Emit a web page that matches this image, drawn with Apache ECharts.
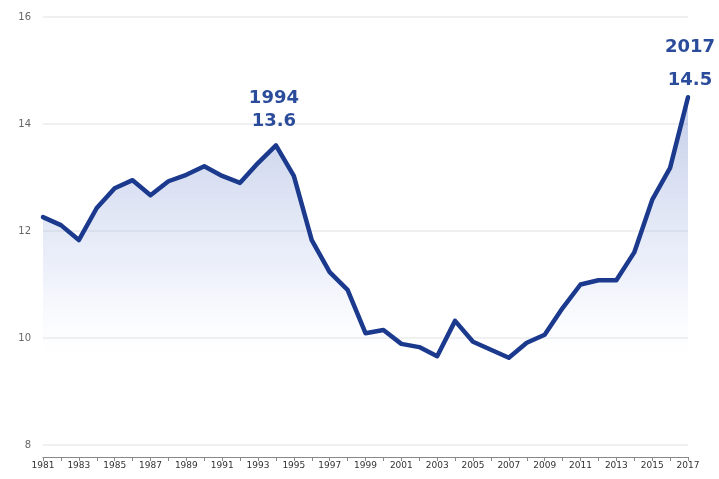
<!DOCTYPE html>
<html>
<head>
<meta charset="utf-8">
<script src="https://cdn.jsdelivr.net/npm/echarts@6/dist/echarts.min.js"></script>
<style>
  html, body { margin: 0; padding: 0; background: #fff; }
  #main { width: 719px; height: 479px; }
</style>
</head>
<body>
<div id="main"></div>
<script>
// years and values
var years = [];
for (var y = 1981; y <= 2017; y++) years.push(String(y));

var values = [12.26, 12.11, 11.83, 12.43, 12.80, 12.95, 12.67, 12.93, 13.05, 13.21,
              13.03, 12.90, 13.27, 13.60, 13.03, 11.83, 11.23, 10.90, 10.09, 10.15,
              9.89, 9.83, 9.66, 10.32, 9.93, 9.78, 9.63, 9.91, 10.06, 10.56,
              11.00, 11.08, 11.08, 11.60, 12.58, 13.18, 14.50];

var yTicks = [8, 10, 12, 14, 16];
var callouts = { '1994': '13.6', '2017': '14.5' };

var myChart = echarts.init(document.getElementById('main'));

// label placement per callout: [x offset, y offset, line height]
var calloutPos = { '1994': [-2, -8, 22.5], '2017': [2, 5, 33] };

var seriesData = values.map(function (v, i) {
    var yr = years[i];
    if (callouts[yr]) {
        var p = calloutPos[yr];
        return {
            value: v,
            label: {
                show: true,
                position: 'top',
                offset: [p[0], p[1]],
                formatter: yr + '\n' + callouts[yr],
                color: '#2b4c9b',
                fontFamily: 'DejaVu Sans',
                fontWeight: 'bold',
                fontSize: 18,
                lineHeight: p[2]
            }
        };
    }
    return v;
});

var option = {
    animation: false,
    grid: { left: 43, right: 31, top: 17, bottom: 34 },
    xAxis: {
        type: 'category',
        data: years,
        boundaryGap: false,
        offset: 12,
        axisLine: { lineStyle: { color: '#888', width: 1 } },
        axisTick: { show: true, interval: 0, length: 4, lineStyle: { color: '#888' } },
        axisLabel: {
            interval: 1,
            color: '#333',
            fontSize: 9,
            fontFamily: 'DejaVu Sans',
            margin: 4
        }
    },
    yAxis: {
        type: 'value',
        min: yTicks[0],
        max: yTicks[yTicks.length - 1],
        interval: 2,
        axisLine: { show: false },
        axisTick: { show: false },
        axisLabel: { color: '#666', fontSize: 10, fontFamily: 'DejaVu Sans', margin: 12 },
        splitLine: { lineStyle: { color: '#ebebeb', width: 1.5 } }
    },
    series: [{
        type: 'line',
        data: seriesData,
        symbol: 'circle',
        symbolSize: 0,
        label: { show: false },
        lineStyle: { color: '#1b3a8e', width: 4.5, join: 'round', cap: 'round' },
        areaStyle: {
            origin: 'start',
            color: new echarts.graphic.LinearGradient(0, 0, 0, 1, [
                { offset: 0, color: 'rgba(110,135,200,0.6)' },
                { offset: 0.5, color: 'rgba(190,202,238,0.4)' },
                { offset: 0.8, color: 'rgba(255,255,255,0)' }
            ])
        }
    }]
};

myChart.setOption(option);
</script>
</body>
</html>
